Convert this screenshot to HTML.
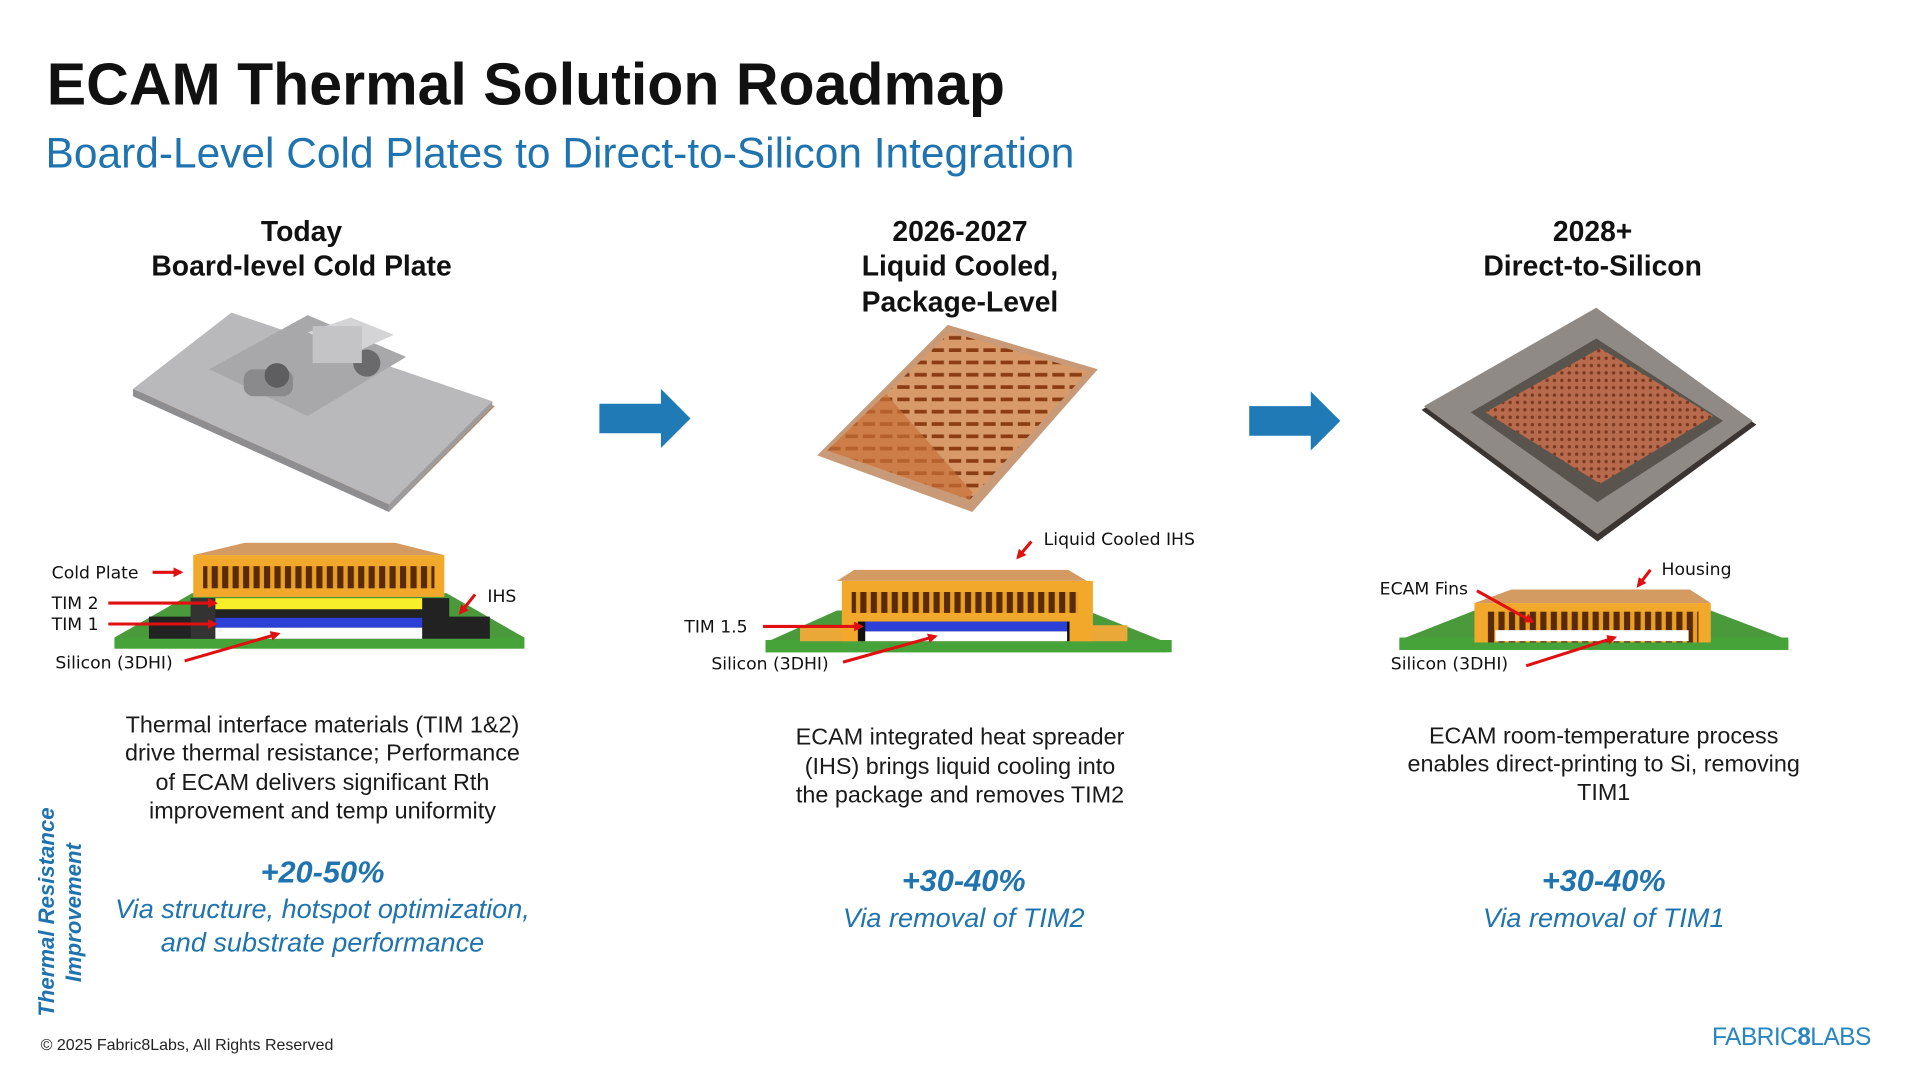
<!DOCTYPE html>
<html><head><meta charset="utf-8"><style>
html,body{margin:0;padding:0;background:#fff;width:1920px;height:1080px;overflow:hidden}
svg{display:block}
text{font-family:"Liberation Sans",Arial,sans-serif}
.c{font-family:"DejaVu Sans","Liberation Sans",sans-serif;font-size:14px;fill:#111}
.h{font-weight:bold;font-size:23px;fill:#111;text-anchor:middle}
.b{font-size:19px;fill:#1a1a1a;text-anchor:middle}
.p{font-weight:bold;font-style:italic;font-size:25px;fill:#1f74b0;text-anchor:middle}
.i{font-style:italic;font-size:22px;fill:#1f74b0;text-anchor:middle}
</style></head><body>
<svg width="1920" height="1080" viewBox="0 0 1560 877.5" xmlns="http://www.w3.org/2000/svg">
<defs>
<marker id="ah" markerWidth="8" markerHeight="8" refX="6" refY="4" orient="auto" markerUnits="userSpaceOnUse"><path d="M0,0 L8,4 L0,8 z" fill="#e01010"/></marker>
<pattern id="fins" width="8.5" height="20" patternUnits="userSpaceOnUse"><rect width="8.5" height="20" fill="#e8a020"/><rect x="2" width="5" height="20" fill="#5a2a08"/></pattern>
<pattern id="cu" width="6" height="6" patternUnits="userSpaceOnUse"><rect width="6" height="6" fill="#b86a4c"/><circle cx="3" cy="3" r="1.4" fill="#7a3a22"/></pattern>
<pattern id="cf" width="14" height="10" patternUnits="userSpaceOnUse"><rect width="14" height="10" fill="#d99a6a"/><rect x="1" y="3" width="10" height="3" fill="#8a3d12"/></pattern>
</defs>

<text x="38" y="85" font-size="48" font-weight="bold" fill="#111">ECAM Thermal Solution Roadmap</text>
<text x="37" y="136" font-size="34.5" fill="#1f74b0">Board-Level Cold Plates to Direct-to-Silicon Integration</text>

<text class="h" x="245" y="196">Today</text>
<text class="h" x="245" y="224">Board-level Cold Plate</text>
<text class="h" x="780" y="196">2026-2027</text>
<text class="h" x="780" y="224">Liquid Cooled,</text>
<text class="h" x="780" y="253">Package-Level</text>
<text class="h" x="1294" y="196">2028+</text>
<text class="h" x="1294" y="224">Direct-to-Silicon</text>

<!-- Photo 1: cold plate -->
<polygon points="110,320 190,258 402,330 318,414" fill="#c9793f"/>
<polygon points="108,316 188,254 400,326 316,410" fill="#b9b9bb"/>
<polygon points="108,316 316,410 316,416 108,322" fill="#8e8e90"/>
<polygon points="316,410 400,326 400,331 316,416" fill="#9c9c9e"/>
<polygon points="170,300 250,256 330,290 250,338" fill="#a8a8aa"/>
<polygon points="250,270 285,258 320,272 285,288" fill="#d4d4d6"/>
<rect x="198" y="300" width="40" height="22" rx="8" fill="#8a8a8c"/>
<circle cx="225" cy="305" r="10" fill="#5e5e60"/>
<circle cx="298" cy="295" r="11" fill="#6a6a6c"/>
<rect x="254" y="265" width="40" height="30" fill="#c4c4c6"/>

<!-- Arrows -->
<polygon points="487,328 537,328 537,316 561,340 537,364 537,352 487,352" fill="#1f7ab6"/>
<polygon points="1015,330 1065,330 1065,318 1089,342 1065,366 1065,354 1015,354" fill="#1f7ab6"/>

<!-- Photo 2: copper fins -->
<polygon points="664,370 770,264 892,300 790,416" fill="#c89a78"/>
<polygon points="672,366 772,270 884,302 788,406" fill="url(#cf)"/>
<polygon points="672,366 720,320 790,400 788,406" fill="#c8703a" opacity=".7"/>

<!-- Photo 3: chip -->
<polygon points="1155,333 1297,252 1427,345 1298,440" fill="#3a3532"/>
<polygon points="1157,330 1297,250 1424,342 1298,434" fill="#8f8a85"/>
<polygon points="1195,335 1297,275 1400,342 1298,408" fill="#5a544f"/>
<polygon points="1207,335 1300,283 1392,338 1300,393" fill="url(#cu)"/>

<!-- Diagram 1 -->
<polygon points="156,482 363,482 426,518 426,527 93,527 93,518" fill="#4a9a3c"/>
<rect x="93" y="518" width="333" height="9" fill="#46a33a"/>
<polygon points="155,486 365,486 365,501 398,501 398,519 121,519 121,501 155,501" fill="#222"/>
<polygon points="155,486 175,486 175,519 155,519" fill="#333"/>
<rect x="175" y="486" width="168" height="9" fill="#f7ef2a"/>
<rect x="175" y="502" width="168" height="8" fill="#2c3fd6"/>
<rect x="175" y="510" width="168" height="9" fill="#fff"/>
<polygon points="199,441 321,441 361,451 157,451" fill="#d39a62"/>
<rect x="157" y="451" width="204" height="34" fill="#f2a82a"/>
<rect x="165" y="460" width="188" height="18" fill="url(#fins)"/>
<text class="c" x="42" y="470">Cold Plate</text>
<line x1="124" y1="465" x2="147" y2="465" stroke="#e01010" stroke-width="2.5" marker-end="url(#ah)"/>
<text class="c" x="42" y="495">TIM 2</text>
<line x1="88" y1="490" x2="175" y2="490" stroke="#e01010" stroke-width="2.5" marker-end="url(#ah)"/>
<text class="c" x="42" y="512">TIM 1</text>
<line x1="88" y1="507" x2="175" y2="507" stroke="#e01010" stroke-width="2.5" marker-end="url(#ah)"/>
<text class="c" x="45" y="543">Silicon (3DHI)</text>
<line x1="150" y1="537" x2="226" y2="515" stroke="#e01010" stroke-width="2.5" marker-end="url(#ah)"/>
<text class="c" x="396" y="489">IHS</text>
<line x1="386" y1="483" x2="374" y2="498" stroke="#e01010" stroke-width="2.5" marker-end="url(#ah)"/>

<!-- Diagram 2 -->
<polygon points="680,496 883,496 948,522 948,530 622,530 622,522" fill="#4a9a3c"/>
<rect x="622" y="520" width="330" height="10" fill="#46a33a"/>
<rect x="650" y="508" width="266" height="13" fill="#e9a838"/>
<polygon points="694,463 868,463 883,472 680,472" fill="#d39a62"/>
<rect x="684" y="472" width="204" height="49" fill="#f2a82a"/>
<rect x="692" y="481" width="184" height="17" fill="url(#fins)"/>
<rect x="697" y="505" width="172" height="16" fill="#111"/>
<rect x="703" y="505" width="164" height="8" fill="#2c3fd6"/>
<rect x="703" y="513" width="164" height="8" fill="#fff"/>
<text class="c" x="848" y="443">Liquid Cooled IHS</text>
<line x1="838" y1="440" x2="827" y2="453" stroke="#e01010" stroke-width="2.5" marker-end="url(#ah)"/>
<text class="c" x="556" y="514">TIM 1.5</text>
<line x1="620" y1="509" x2="700" y2="509" stroke="#e01010" stroke-width="2.5" marker-end="url(#ah)"/>
<text class="c" x="578" y="544">Silicon (3DHI)</text>
<line x1="685" y1="538" x2="760" y2="517" stroke="#e01010" stroke-width="2.5" marker-end="url(#ah)"/>

<!-- Diagram 3 -->
<polygon points="1198,496 1390,496 1453,520 1453,528 1137,528 1137,520" fill="#4a9a3c"/>
<rect x="1137" y="518" width="316" height="10" fill="#46a33a"/>
<polygon points="1228,479 1373,479 1390,490 1198,490" fill="#d39a62"/>
<rect x="1198" y="490" width="192" height="32" fill="#f2a82a"/>
<rect x="1208" y="497" width="172" height="25" fill="url(#fins)"/>
<rect x="1215" y="512" width="157" height="9" fill="#fff"/>
<text class="c" x="1121" y="483">ECAM Fins</text>
<line x1="1200" y1="480" x2="1245" y2="505" stroke="#e01010" stroke-width="2.5" marker-end="url(#ah)"/>
<text class="c" x="1350" y="467">Housing</text>
<line x1="1341" y1="463" x2="1331" y2="476" stroke="#e01010" stroke-width="2.5" marker-end="url(#ah)"/>
<text class="c" x="1130" y="544">Silicon (3DHI)</text>
<line x1="1240" y1="541" x2="1312" y2="518" stroke="#e01010" stroke-width="2.5" marker-end="url(#ah)"/>

<!-- Body text -->
<text class="b" x="262" y="595">Thermal interface materials (TIM 1&amp;2)</text>
<text class="b" x="262" y="618">drive thermal resistance; Performance</text>
<text class="b" x="262" y="642">of ECAM delivers significant Rth</text>
<text class="b" x="262" y="665">improvement and temp uniformity</text>
<text class="b" x="780" y="605">ECAM integrated heat spreader</text>
<text class="b" x="780" y="629">(IHS) brings liquid cooling into</text>
<text class="b" x="780" y="652">the package and removes TIM2</text>
<text class="b" x="1303" y="604">ECAM room-temperature process</text>
<text class="b" x="1303" y="627">enables direct-printing to Si, removing</text>
<text class="b" x="1303" y="650">TIM1</text>

<text class="p" x="262" y="717">+20-50%</text>
<text class="i" x="262" y="746">Via structure, hotspot optimization,</text>
<text class="i" x="262" y="773">and substrate performance</text>
<text class="p" x="783" y="724">+30-40%</text>
<text class="i" x="783" y="753">Via removal of TIM2</text>
<text class="p" x="1303" y="724">+30-40%</text>
<text class="i" x="1303" y="753">Via removal of TIM1</text>

<text transform="translate(44,826) rotate(-90)" font-size="18" font-weight="bold" font-style="italic" fill="#1f74b0">Thermal Resistance</text>
<text transform="translate(66,798) rotate(-90)" font-size="18" font-weight="bold" font-style="italic" fill="#1f74b0">Improvement</text>

<text x="33" y="853" font-size="13" fill="#222">© 2025 Fabric8Labs, All Rights Reserved</text>
<text x="1391" y="849" font-size="20" fill="#2a86c0" letter-spacing="-0.5">FABRIC<tspan font-weight="bold">8</tspan>LABS</text>
</svg>
</body></html>
